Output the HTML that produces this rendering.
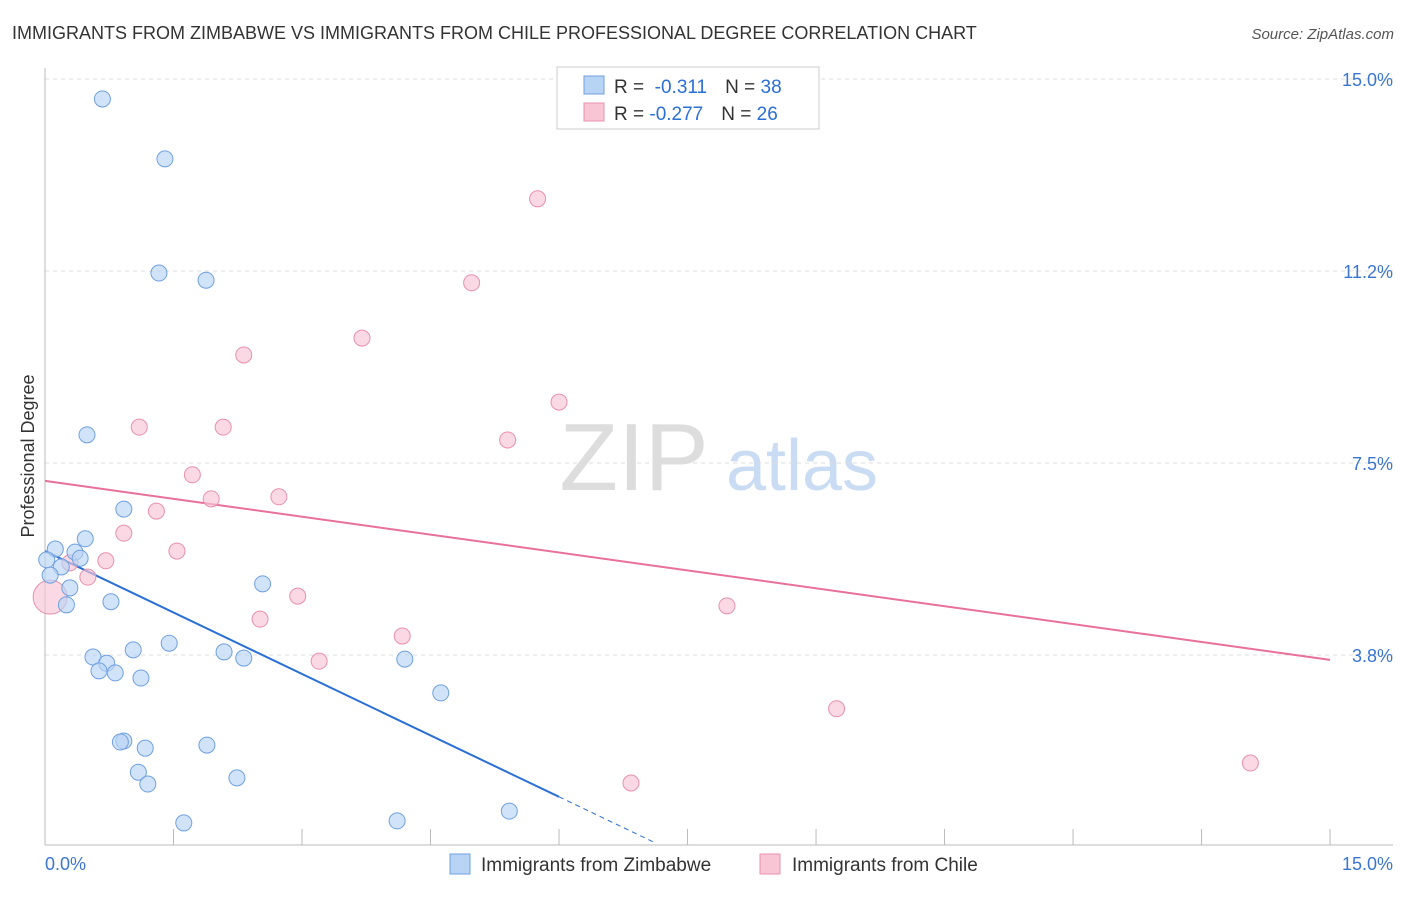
<!DOCTYPE html>
<html><head><meta charset="utf-8"><style>
body{margin:0;background:#fff;font-family:"Liberation Sans",sans-serif}
svg text{font-family:"Liberation Sans",sans-serif}
</style></head><body>
<svg width="1406" height="892" viewBox="0 0 1406 892">
<text x="12" y="39" font-size="18" fill="#333">IMMIGRANTS FROM ZIMBABWE VS IMMIGRANTS FROM CHILE PROFESSIONAL DEGREE CORRELATION CHART</text>
<text x="1394" y="39" font-size="15" fill="#555" text-anchor="end" font-style="italic">Source: ZipAtlas.com</text>
<g>
<text x="634" y="490" font-size="96" fill="#ddd" text-anchor="middle" font-family="Liberation Serif">ZIP</text>
<text x="802" y="490" font-size="72" fill="#c9dcf3" text-anchor="middle">atlas</text>
</g>
<g id="grid"></g>
<g id="axes"></g>
<g id="lines"></g>
<g id="pts"></g>
<text transform="translate(34,456) rotate(-90)" font-size="18" fill="#333" text-anchor="middle">Professional Degree</text>
<g>
<rect x="557" y="67" width="262" height="62" fill="#fff" stroke="#ccc"/>
<rect x="584" y="76" width="20" height="18" fill="#b8d4f5" stroke="#6fa0e0"/>
<rect x="584" y="103" width="20" height="18" fill="#f8c5d5" stroke="#e890ad"/>
<text x="614" y="93" font-size="19" fill="#333">R = <tspan fill="#2a6fd6">&#160;-0.311</tspan><tspan dx="18" fill="#333">N = </tspan><tspan fill="#2a6fd6">38</tspan></text>
<text x="614" y="120" font-size="19" fill="#333">R = <tspan fill="#2a6fd6">-0.277</tspan><tspan dx="18" fill="#333">N = </tspan><tspan fill="#2a6fd6">26</tspan></text>
</g>
<g>
<rect x="450" y="854" width="20" height="20" fill="#b8d4f5" stroke="#6fa0e0"/>
<text x="481" y="871" font-size="19" fill="#333">Immigrants from Zimbabwe</text>
<rect x="760" y="854" width="20" height="20" fill="#f8c5d5" stroke="#e890ad"/>
<text x="792" y="871" font-size="19" fill="#333">Immigrants from Chile</text>
</g>
</svg>
<script>
const yTicks=[15.0,11.25,7.5,3.75];
const yTickLabels=["15.0%","11.2%","7.5%","3.8%"];
const xTickLabels=["0.0%","15.0%"];
const zimX=[0.67,1.40,1.33,1.88,0.49,0.92,0.47,0.12,0.35,0.41,0.19,0.06,0.29,0.25,0.77,2.54,1.45,1.03,0.56,0.72,0.63,0.82,2.09,2.32,4.20,1.12,4.62,0.92,0.88,1.17,1.89,1.09,1.20,2.24,1.62,4.11,5.42,0.02];
const zimY=[14.61,13.44,11.21,11.07,8.05,6.60,6.02,5.82,5.76,5.64,5.47,5.31,5.06,4.73,4.79,5.14,3.98,3.85,3.71,3.59,3.44,3.40,3.81,3.69,3.67,3.30,3.01,2.07,2.05,1.93,1.99,1.46,1.23,1.35,0.47,0.51,0.70,5.61];
const chiX=[5.75,4.98,3.70,2.32,6.00,1.10,2.08,5.40,1.72,2.73,1.94,1.30,0.92,1.54,0.71,0.50,0.29,2.95,2.51,4.17,3.20,7.96,9.24,6.84,14.07,0.06];
const chiY=[12.66,11.02,9.94,9.61,8.69,8.20,8.20,7.95,7.27,6.84,6.80,6.56,6.13,5.78,5.59,5.27,5.55,4.90,4.45,4.12,3.63,4.71,2.70,1.25,1.64,4.88];
const zimTrend=[5.78,-0.80];
const chiTrend=[7.15,-0.233];
const NS="http://www.w3.org/2000/svg";
const X=v=>45+v*85.67, Y=v=>847-v*51.2;
function mk(p,t,a){const e=document.createElementNS(NS,t);for(const k in a)e.setAttribute(k,a[k]);document.getElementById(p).appendChild(e);return e;}
yTicks.forEach((t,i)=>{
 const g=mk('grid','line',{x1:45,x2:1393,y1:Y(t),y2:Y(t),stroke:'#ddd','stroke-dasharray':'4,4'});
 
 
 const l=mk('grid','text',{x:1393,y:Y(t)+7,'font-size':18,fill:'#3a76d0','text-anchor':'end'});
 l.textContent=yTickLabels[i];
 
 
});
const ya=mk('axes','line',{x1:45,x2:45,y1:68,y2:845,stroke:'#bbb'});


const xa=mk('axes','line',{x1:45,x2:1393,y1:845,y2:845,stroke:'#bbb'});


for(let i=0;i<=10;i++){const t=mk('axes','line',{x1:X(i*1.5),x2:X(i*1.5),y1:829,y2:845,stroke:'#bbb'});
 
 }
const xl0=mk('axes','text',{x:45,y:870,'font-size':18,fill:'#3a76d0'});xl0.textContent=xTickLabels[0];


const xl1=mk('axes','text',{x:1393,y:870,'font-size':18,fill:'#3a76d0','text-anchor':'end'});xl1.textContent=xTickLabels[1];


const f=(tr,x)=>tr[0]+tr[1]*x;
const b1=mk('lines','line',{x1:X(0),y1:Y(f(zimTrend,0)),x2:X(6),y2:Y(f(zimTrend,6)),stroke:'#2a6fd6','stroke-width':2});


const b2=mk('lines','line',{x1:X(6),y1:Y(f(zimTrend,6)),x2:X(7.12),y2:Y(f(zimTrend,7.12)),stroke:'#2a6fd6','stroke-width':1,'stroke-dasharray':'5,4'});


const p1=mk('lines','line',{x1:X(0),y1:Y(f(chiTrend,0)),x2:X(15),y2:Y(f(chiTrend,15)),stroke:'#e8709a','stroke-width':2});


chiX.forEach((x,i)=>{const c=mk('pts','circle',{cx:X(x),cy:Y(chiY[i]),r:i==chiX.length-1?17:8,fill:'#f8c5d5','fill-opacity':0.65,stroke:'#e890ad','stroke-width':1});
 
 });
zimX.forEach((x,i)=>{const c=mk('pts','circle',{cx:X(x),cy:Y(zimY[i]),r:8,fill:'#b8d4f5','fill-opacity':0.65,stroke:'#6fa0e0','stroke-width':1});
 
 });
</script>
</body></html>
